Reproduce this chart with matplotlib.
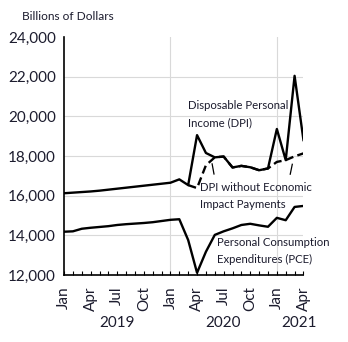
"""DPI vs PCE, Jan 2019 - Apr 2021"""

import numpy as np
import matplotlib

matplotlib.use("Agg")
import matplotlib.pyplot as plt
import matplotlib.transforms as mtransforms

FONT = "Lato"
TEXT_COLOR = "#1c1c2e"
NOTE_SIZE = 8.2

MONTHS = ["Jan", "Feb", "Mar", "Apr", "May", "Jun",
          "Jul", "Aug", "Sep", "Oct", "Nov", "Dec"] * 2 + ["Jan", "Feb", "Mar", "Apr"]
YEARS = ["2019", "2020", "2021"]
YEAR_POS = [6, 17.9, 26.5]

# billions of dollars, SAAR
DPI = [16120, 16150, 16180, 16210, 16250, 16300, 16350, 16400, 16450, 16500, 16550, 16600,
       16650, 16820, 16530, 19050, 18150, 17930, 17970, 17420, 17500, 17430, 17280, 17370,
       19360, 17790, 22040, 18800]
DPI_NO_EIP = [np.nan] * 14 + [16530, 16380, 17530, 17930, 17970, 17420, 17500, 17430, 17280, 17370,
                              17700, 17790, 17980, 18130]
PCE = [14180, 14200, 14330, 14380, 14420, 14460, 14520, 14560, 14590, 14620, 14660, 14720,
       14780, 14810, 13760, 12110, 13170, 14020, 14200, 14350, 14520, 14580, 14500, 14430,
       14880, 14760, 15430, 15480]

plt.rcParams["font.family"] = [FONT, "DejaVu Sans"]

fig = plt.figure(figsize=(3.48, 3.42), dpi=100)
ax = fig.add_axes([0.184, 0.196, 0.688, 0.696])

x = np.arange(len(MONTHS))
ax.plot(x, DPI, color="black", lw=1.7, zorder=3)
ax.plot(x, DPI_NO_EIP, color="black", lw=1.7, ls=(0, (3.5, 1.8)), zorder=4)
ax.plot(x, PCE, color="black", lw=1.7, zorder=3)

ax.set_xlim(0, len(MONTHS) - 1)
ax.set_ylim(12000, 24000)
ax.set_yticks(range(12000, 24001, 2000))
ax.set_yticklabels([f"{v:,}" for v in range(12000, 24001, 2000)], fontsize=11, color=TEXT_COLOR)
ax.tick_params(axis="y", length=0, pad=6)

ax.set_xticks(x, minor=True)
ax.set_xticks(x[::3])
ax.set_xticklabels(MONTHS[::3], rotation=90, fontsize=11, color=TEXT_COLOR)
ax.tick_params(axis="x", which="both", direction="in", length=3, width=0.8, pad=8)

for v in range(14000, 22001, 2000):
    ax.axhline(v, color="#d9d9d9", lw=0.8, zorder=1)
for m in (12, 24):
    ax.axvline(m, color="#d9d9d9", lw=0.8, zorder=1)

for s in ("top", "right"):
    ax.spines[s].set_visible(False)
ax.spines["left"].set_linewidth(1.2)
ax.spines["bottom"].set_linewidth(1.2)

trans = mtransforms.blended_transform_factory(ax.transData, fig.transFigure)
for label, pos in zip(YEARS, YEAR_POS):
    ax.text(pos, 1 - 323 / 342, label, transform=trans, ha="center", va="center",
            fontsize=11, color=TEXT_COLOR)

fig.text(22 / 348, 1 - 17 / 342, "Billions of Dollars", fontsize=8.6,
         color=TEXT_COLOR, va="center", ha="left")

ax.text(14.0, 20120, "Disposable Personal\nIncome (DPI)", fontsize=NOTE_SIZE,
        color=TEXT_COLOR, va="center", ha="left", linespacing=1.75)
ax.text(15.33, 15980, "DPI without Economic\nImpact Payments", fontsize=NOTE_SIZE,
        color=TEXT_COLOR, va="center", ha="left", linespacing=1.75)
ax.text(17.25, 13210, "Personal Consumption\nExpenditures (PCE)", fontsize=NOTE_SIZE,
        color=TEXT_COLOR, va="center", ha="left", linespacing=1.75)

# leader lines to the dashed series
ax.plot([16.70, 16.91], [17600, 17090], color="black", lw=0.9, zorder=2)
ax.plot([25.74, 25.51], [17580, 17080], color="black", lw=0.9, zorder=2)

fig.savefig("out.png", dpi=100)
